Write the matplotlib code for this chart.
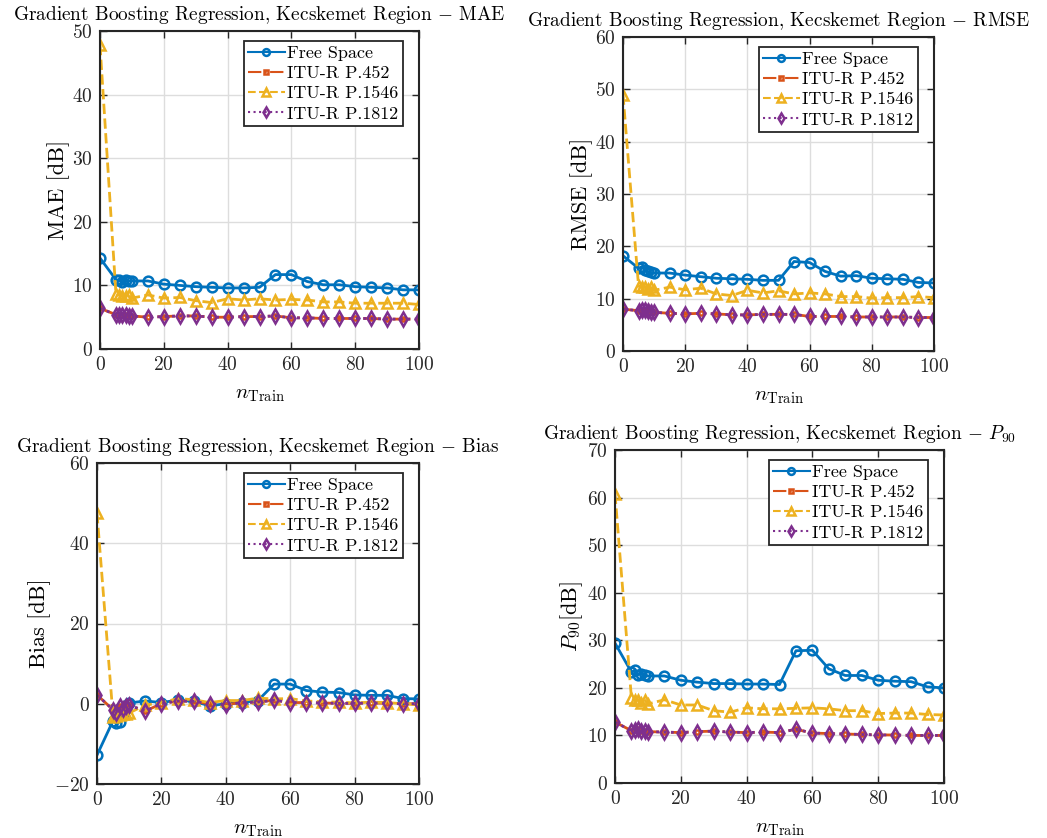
import matplotlib
matplotlib.use("Agg")
import matplotlib.pyplot as plt

plt.rcParams['font.family'] = 'serif'
plt.rcParams['font.serif'] = ['cmr10']
plt.rcParams['mathtext.fontset'] = 'cm'
plt.rcParams['axes.formatter.use_mathtext'] = True

n_train = [0, 5, 6, 7, 8, 9, 10, 15, 20, 25, 30, 35, 40, 45, 50,
           55, 60, 65, 70, 75, 80, 85, 90, 95, 100]

model_names = ['Free Space', 'ITU-R P.452', 'ITU-R P.1546', 'ITU-R P.1812']

# MAE [dB]
mae_free = [14.3, 10.9, 10.8, 10.5, 10.8, 10.7, 10.7, 10.7, 10.2, 10.0, 9.8, 9.7, 9.6,
            9.6, 9.7, 11.7, 11.7, 10.6, 10.1, 10.1, 9.8, 9.7, 9.6, 9.3, 9.3]
mae_452 = [6.4, 5.4, 5.3, 5.4, 5.3, 5.2, 5.2, 5.0, 5.1, 5.2, 5.2, 5.0, 5.0,
           5.1, 5.1, 5.2, 4.9, 4.9, 4.8, 4.8, 4.8, 4.8, 4.7, 4.7, 4.7]
mae_1546 = [47.8, 8.7, 8.5, 8.4, 8.3, 8.5, 8.0, 8.5, 8.0, 8.1, 7.6, 7.3, 7.9,
            7.7, 7.9, 7.7, 7.8, 7.7, 7.4, 7.4, 7.2, 7.2, 7.2, 7.2, 7.0]
mae_1812 = [6.4, 5.4, 5.3, 5.4, 5.3, 5.2, 5.2, 5.0, 5.1, 5.2, 5.2, 5.0, 5.0,
            5.1, 5.1, 5.2, 4.9, 4.9, 4.8, 4.8, 4.8, 4.8, 4.7, 4.7, 4.7]

# RMSE [dB]
rmse_free = [18.2, 15.8, 16.1, 15.5, 15.2, 15.0, 14.9, 14.9, 14.5, 14.2, 13.9, 13.8, 13.7,
             13.5, 13.5, 17.1, 16.9, 15.2, 14.3, 14.4, 13.9, 13.8, 13.7, 13.1, 13.0]
rmse_452 = [8.0, 7.7, 7.9, 7.8, 7.6, 7.5, 7.4, 7.2, 7.1, 7.2, 7.1, 6.9, 6.9,
            7.0, 7.0, 7.0, 6.6, 6.6, 6.6, 6.5, 6.5, 6.5, 6.5, 6.4, 6.4]
rmse_1546 = [49.0, 12.4, 12.2, 12.3, 11.9, 12.3, 11.6, 12.2, 11.7, 12.0, 10.9, 10.6, 11.6,
             11.1, 11.5, 10.9, 11.1, 10.9, 10.4, 10.4, 10.1, 10.2, 10.2, 10.4, 10.2]
rmse_1812 = [8.0, 7.7, 7.9, 7.8, 7.6, 7.5, 7.4, 7.2, 7.1, 7.2, 7.1, 6.9, 6.9,
             7.0, 7.0, 7.0, 6.6, 6.6, 6.6, 6.5, 6.5, 6.5, 6.5, 6.4, 6.4]

# Bias [dB]
bias_free = [-12.8, -4.2, -4.8, -4.5, -2.5, -1.0, 0.2, 0.7, 0.3, 0.9, 0.6, -0.5, 0.0,
             0.3, 0.8, 4.9, 4.9, 3.3, 2.9, 2.8, 2.2, 2.1, 2.1, 1.3, 1.2]
bias_452 = [2.2, -1.5, -2.2, -0.6, -1.3, -0.5, -0.4, -1.8, 0.0, 0.7, 0.6, 0.0, -0.2,
            0.3, 0.4, 0.9, 0.3, 0.3, 0.2, 0.1, 0.1, 0.2, 0.1, 0.0, 0.0]
bias_1546 = [47.5, -3.3, -3.0, -2.9, -2.5, -2.5, -2.3, -0.3, 0.2, 1.3, 1.0, 0.3, 0.8,
             0.8, 1.4, 1.2, 1.3, 0.7, 0.5, 0.4, 0.2, 0.4, 0.3, 0.0, -0.3]
bias_1812 = [2.2, -1.5, -2.2, -0.6, -1.3, -0.5, -0.4, -1.8, 0.0, 0.7, 0.6, 0.0, -0.2,
             0.3, 0.4, 0.9, 0.3, 0.3, 0.2, 0.1, 0.1, 0.2, 0.1, 0.0, 0.0]

# 90th percentile error [dB]
p90_free = [29.4, 23.3, 23.7, 22.8, 22.9, 22.6, 22.5, 22.5, 21.6, 21.2, 20.9, 20.9, 20.8,
            20.8, 20.7, 27.8, 27.9, 24.0, 22.6, 22.6, 21.6, 21.4, 21.3, 20.2, 20.0]
p90_452 = [12.8, 11.0, 11.2, 11.3, 10.9, 11.0, 10.8, 10.7, 10.6, 10.8, 10.9, 10.7, 10.6,
           10.7, 10.6, 11.3, 10.5, 10.4, 10.3, 10.2, 10.1, 10.1, 10.0, 10.0, 10.0]
p90_1546 = [60.8, 17.8, 17.5, 17.5, 16.9, 17.5, 16.6, 17.5, 16.4, 16.4, 15.2, 14.9, 15.8,
            15.6, 15.6, 15.7, 15.8, 15.6, 15.2, 15.2, 14.6, 14.7, 14.7, 14.4, 14.3]
p90_1812 = [12.8, 11.0, 11.2, 11.3, 10.9, 11.0, 10.8, 10.7, 10.6, 10.8, 10.9, 10.7, 10.6,
            10.7, 10.6, 11.3, 10.5, 10.4, 10.3, 10.2, 10.1, 10.1, 10.0, 10.0, 10.0]

colors = ['#0072BD', '#D95319', '#EDB120', '#7E2F8E']
styles = ['-', '-.', '--', ':']
markers = ['o', 's', '^', 'd']
msizes = [7, 3.5, 7.5, 7]

panels = [
    ([mae_free, mae_452, mae_1546, mae_1812], 'MAE', 'MAE [dB]', (0, 50), 10,
     [100, 31, 319, 318]),
    ([rmse_free, rmse_452, rmse_1546, rmse_1812], 'RMSE', 'RMSE [dB]', (0, 60), 10,
     [623, 37, 311, 314]),
    ([bias_free, bias_452, bias_1546, bias_1812], 'Bias', 'Bias [dB]', (-20, 60), 20,
     [97, 463, 322, 321]),
    ([p90_free, p90_452, p90_1546, p90_1812], '$P_{90}$', '$P_{90}$[dB]', (0, 70), 10,
     [615, 450, 329, 333]),
]

W, H = 1047, 838
fig = plt.figure(figsize=(W / 100, H / 100), dpi=100)

for series, metric, ylab, ylim, ystep, (px, py, pw, ph) in panels:
    ax = fig.add_axes([px / W, 1 - (py + ph) / H, pw / W, ph / H])
    for vals, name, c, ls, m, ms in zip(series, model_names, colors, styles, markers, msizes):
        ax.plot(n_train, vals, color=c, linestyle=ls, marker=m, markersize=ms,
                markerfacecolor='none', markeredgewidth=1.8, linewidth=2.0, label=name)
    ax.set_xlim(0, 100)
    ax.set_ylim(*ylim)
    ax.set_xticks(range(0, 101, 20))
    ax.set_yticks(range(ylim[0], ylim[1] + 1, ystep))
    ax.grid(True, color='#dddddd', linewidth=1.0)
    ax.set_axisbelow(True)
    ax.tick_params(direction='in', top=True, right=True, labelsize=14, pad=5,
                   length=5, width=1.0, colors='#262626')
    for sp in ax.spines.values():
        sp.set_linewidth(1.5)
        sp.set_color('#262626')
    ax.set_title('Gradient Boosting Regression, Kecskemet Region $-$ ' + metric,
                 fontsize=13.9, pad=8)
    ax.set_ylabel(ylab, fontsize=16, labelpad=2)
    ax.set_xlabel(r'$n_{\mathrm{Train}}$', fontsize=15, labelpad=9)
    leg = ax.legend(loc='upper right', bbox_to_anchor=(1 - 16 / pw, 1 - 10 / ph),
                    borderaxespad=0, fontsize=13, fancybox=False, markerscale=0.7,
                    edgecolor='#262626', framealpha=1, handlelength=2.0,
                    borderpad=0.25, labelspacing=0.25, handletextpad=0.15)
    leg.get_frame().set_linewidth(1.3)
    for h in leg.get_lines():
        h.set_linewidth(1.5)

fig.savefig('out.png', dpi=100)
